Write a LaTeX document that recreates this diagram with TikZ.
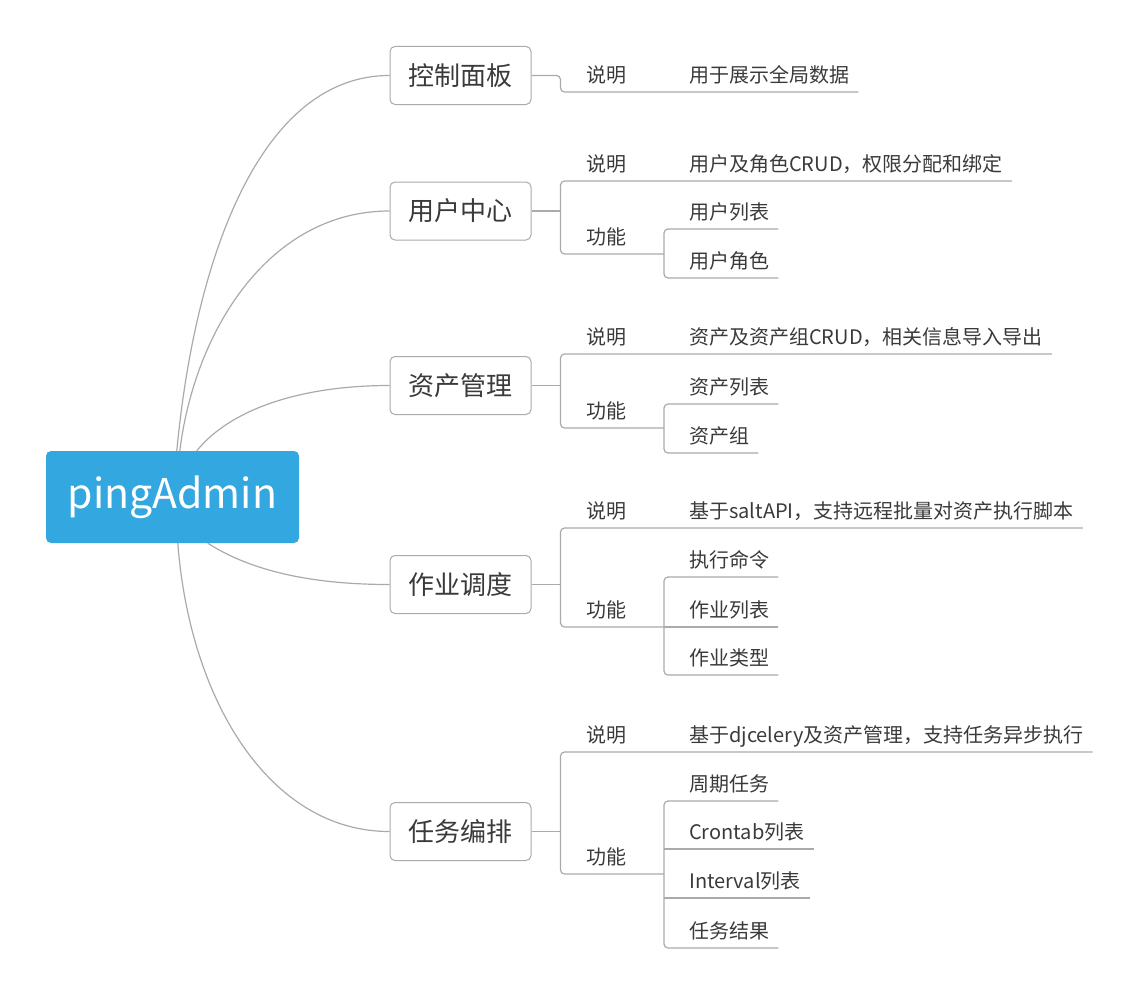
\documentclass[tikz,border=0pt]{standalone}
\usepackage{fontspec}
\setmainfont{Noto Sans CJK SC}
\definecolor{rootblue}{HTML}{33A7E0}
\definecolor{linegray}{HTML}{AAAAAA}
\definecolor{txt}{HTML}{3A3A3A}
\tikzset{
	rootbox/.style={fill=rootblue,text=white,rounded corners=5pt,minimum width=253pt,minimum height=92pt,font=\fontsize{41}{46}\selectfont},
	topic/.style={draw=linegray,line width=1pt,fill=white,text=txt,rounded corners=5pt,minimum width=141pt,minimum height=58pt,font=\fontsize{26}{30}\selectfont},
	sub/.style={anchor=south west,inner xsep=0pt,inner ysep=9pt,text depth=0pt,text=txt,font=\fontsize{20}{24}\selectfont},
	link/.style={draw=linegray,line width=1.2pt},
}
\begin{document}
\begin{tikzpicture}[x=1pt,y=-1pt]
	\useasboundingbox (0,0) rectangle (1147,998);
	\node[rootbox] (ping) at (172.5,497) {pingAdmin};
	\node[topic] (panel) at (460.5,75.5) {控制面板};
	\node[topic] (user) at (460.5,211) {用户中心};
	\node[topic] (asset) at (460.5,385.5) {资产管理};
	\node[topic] (job) at (460.5,584.5) {作业调度};
	\node[topic] (task) at (460.5,831.5) {任务编排};
	\draw[link] ([xshift=131pt]ping.north west) .. controls +(18,-191) and +(-130,0) .. (panel.west);
	\draw[link] ([xshift=134pt]ping.north west) .. controls +(15,-121) and +(-120,0) .. (user.west);
	\draw[link] ([xshift=151pt]ping.north west) .. controls +(33,-41) and +(-90,0) .. (asset.west);
	\draw[link] ([xshift=162pt]ping.south west) .. controls +(42,27) and +(-80,0) .. (job.west);
	\draw[link] ([xshift=132pt]ping.south west) .. controls +(12,157) and +(-120,0) .. (task.west);

	\node[sub] (panel-note) at (586,92) {说明};
	\node[sub] (panel-desc) at (689,92) {用于展示全局数据};
	\draw[link,rounded corners=4pt] (panel.east) -- ++(29,0) |- ([xshift=9pt]panel-desc.south east);

	\node[sub] (user-note) at (586,181) {说明};
	\node[sub] (user-func) at (586,254) {功能};
	\node[sub] (user-desc) at (689,181) {用户及角色CRUD，权限分配和绑定};
	\node[sub] (user-list) at (689,229) {用户列表};
	\node[sub] (user-role) at (689,278) {用户角色};
	\coordinate (user-fork) at ([xshift=29pt]user.east);
	\coordinate (user-sub) at (664,254);
	\draw[link] (user.east) -- (user-fork);
	\draw[link,rounded corners=4pt] ([xshift=9pt]user-desc.south east) -| (user-fork) |- (user-sub);
	\draw[link,rounded corners=4pt] ([xshift=9pt]user-list.south east) -| (user-sub) |- ([xshift=9pt]user-role.south east);

	\node[sub] (asset-note) at (586,354) {说明};
	\node[sub] (asset-func) at (586,428) {功能};
	\node[sub] (asset-desc) at (689,354) {资产及资产组CRUD，相关信息导入导出};
	\node[sub] (asset-list) at (689,404) {资产列表};
	\node[sub] (asset-group) at (689,453) {资产组};
	\coordinate (asset-fork) at ([xshift=29pt]asset.east);
	\coordinate (asset-sub) at (664,428);
	\draw[link] (asset.east) -- (asset-fork);
	\draw[link,rounded corners=4pt] ([xshift=9pt]asset-desc.south east) -| (asset-fork) |- (asset-sub);
	\draw[link,rounded corners=4pt] ([xshift=9pt]asset-list.south east) -| (asset-sub) |- ([xshift=9pt]asset-group.south east);

	\node[sub] (job-note) at (586,528) {说明};
	\node[sub] (job-func) at (586,627) {功能};
	\node[sub] (job-desc) at (689,528) {基于saltAPI，支持远程批量对资产执行脚本};
	\node[sub] (job-exec) at (689,577) {执行命令};
	\node[sub] (job-list) at (689,627) {作业列表};
	\node[sub] (job-type) at (689,675) {作业类型};
	\coordinate (job-fork) at ([xshift=29pt]job.east);
	\coordinate (job-sub) at (664,627);
	\draw[link] (job.east) -- (job-fork);
	\draw[link,rounded corners=4pt] ([xshift=9pt]job-desc.south east) -| (job-fork) |- (job-sub);
	\draw[link,rounded corners=4pt] ([xshift=9pt]job-exec.south east) -| (job-sub) |- ([xshift=9pt]job-type.south east);
	\draw[link] (job-sub) -- ([xshift=9pt]job-list.south east);

	\node[sub] (task-note) at (586,752) {说明};
	\node[sub] (task-func) at (586,874) {功能};
	\node[sub] (task-desc) at (689,752) {基于djcelery及资产管理，支持任务异步执行};
	\node[sub] (task-period) at (689,801) {周期任务};
	\node[sub] (task-cron) at (689,849) {Crontab列表};
	\node[sub] (task-interval) at (689,898) {Interval列表};
	\node[sub] (task-result) at (689,948) {任务结果};
	\coordinate (task-fork) at ([xshift=29pt]task.east);
	\coordinate (task-sub) at (664,874);
	\draw[link] (task.east) -- (task-fork);
	\draw[link,rounded corners=4pt] ([xshift=9pt]task-desc.south east) -| (task-fork) |- (task-sub);
	\draw[link,rounded corners=4pt] ([xshift=9pt]task-period.south east) -| (task-sub) |- ([xshift=9pt]task-result.south east);
	\draw[link] (task-cron.south west -| task-sub) -- ([xshift=9pt]task-cron.south east);
	\draw[link] (task-interval.south west -| task-sub) -- ([xshift=9pt]task-interval.south east);
\end{tikzpicture}
\end{document}
